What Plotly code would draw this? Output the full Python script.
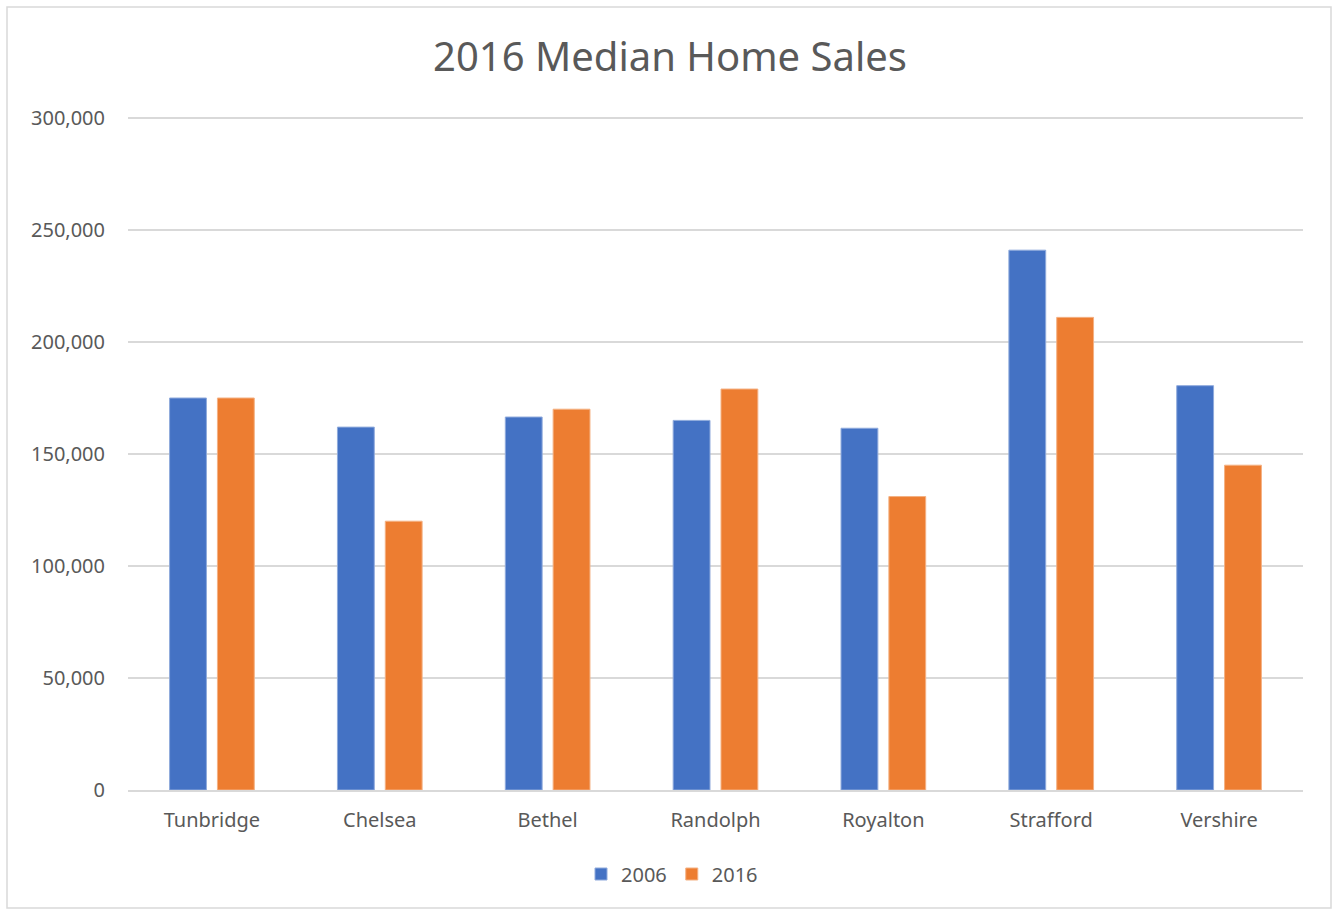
import plotly.graph_objects as go

towns = ["Tunbridge", "Chelsea", "Bethel", "Randolph", "Royalton", "Strafford", "Vershire"]
sales_2006 = [175000, 162000, 166500, 165000, 161500, 241000, 180500]
sales_2016 = [175000, 120000, 170000, 179000, 131000, 211000, 145000]
y_ticks = [0, 50000, 100000, 150000, 200000, 250000, 300000]

W, H = 1333, 909
L, R, T, B = 128, 30, 114, 119
pw, ph = W - L - R, H - T - B
Y_TOP = 300000 * ph / (ph - 4)

FONT = "Noto Sans"
GREY = "#595959"

fig = go.Figure()
fig.add_trace(go.Bar(name="2006", x=towns, y=sales_2006, marker=dict(color="#4472C4", line=dict(color="#8FAADC", width=1))))
fig.add_trace(go.Bar(name="2016", x=towns, y=sales_2016, marker=dict(color="#ED7D31", line=dict(color="#F4B183", width=1))))

fig.update_layout(
    width=W, height=H,
    margin=dict(l=L, r=R, t=T, b=B, autoexpand=False),
    paper_bgcolor="white", plot_bgcolor="white",
    barmode="group", bargap=0.43, bargroupgap=0.23,
    title=dict(text="2016 Median Home Sales", x=670 / W, xanchor="center", y=1 - 57 / H, yanchor="middle",
               font=dict(family=FONT, size=40, color=GREY)),
    font=dict(family=FONT, color=GREY),
    showlegend=True,
    legend=dict(orientation="h", x=(672 - L) / pw, xanchor="center", y=(790 - 874) / ph, yanchor="middle",
                font=dict(family=FONT, size=20, color=GREY), itemwidth=30, traceorder="normal"),
    xaxis=dict(showgrid=False, showline=True, linecolor="#D9D9D9", linewidth=1.5, ticks="",
               tickangle=0, automargin=False,
               tickfont=dict(family=FONT, size=20, color=GREY), ticklabelstandoff=11),
    yaxis=dict(range=[0, Y_TOP], tickvals=y_ticks, tickformat=",d", showgrid=True, gridcolor="#D9D9D9",
               gridwidth=1.5, zeroline=False, showline=False, ticks="", automargin=False,
               tickfont=dict(family=FONT, size=20, color=GREY), ticklabelstandoff=22),
)

fig.add_shape(type="rect", xref="paper", yref="paper",
              x0=(7 - L) / pw, x1=(1331 - L) / pw, y0=(790 - 908) / ph, y1=(790 - 7) / ph,
              line=dict(color="#D9D9D9", width=1.5), fillcolor="rgba(0,0,0,0)", layer="below")

fig.write_html("out.html", config=dict(displayModeBar=False),
               post_script="document.body.style.margin='0';document.body.style.overflow='hidden';")
